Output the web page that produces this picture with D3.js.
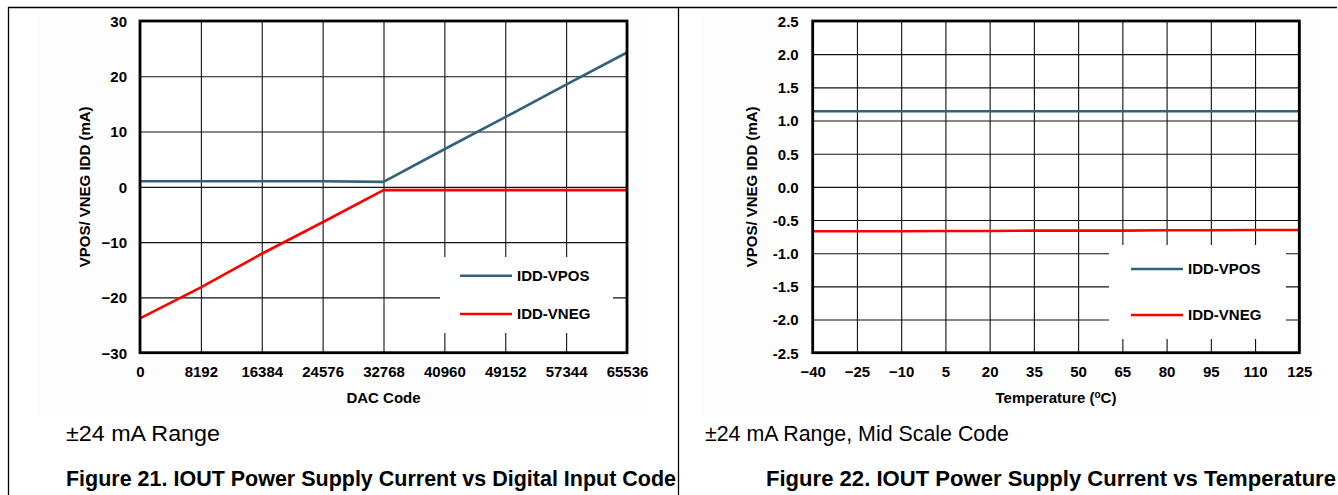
<!DOCTYPE html>
<html>
<head>
<meta charset="utf-8">
<script src="https://cdn.jsdelivr.net/npm/d3@7"></script>
<style>
  html, body { margin: 0; padding: 0; background: #fff; }
  svg { display: block; }
  text { font-family: "Liberation Sans", Arial, sans-serif; fill: #000; }
</style>
</head>
<body>
<svg id="chart" width="1338" height="495"></svg>
<script>
// ---------- Data (Figure 21) ----------
const dacCodes = [0, 8192, 16384, 24576, 32768, 40960, 49152, 57344, 65536];
const dacVpos  = [1.0, 1.0, 1.0, 1.0, 0.9, 6.8, 12.6, 18.5, 24.3];
const dacVneg  = [-23.8, -18.2, -12.1, -6.4, -0.6, -0.6, -0.6, -0.6, -0.6];
const dacXTicks = [0, 8192, 16384, 24576, 32768, 40960, 49152, 57344, 65536];
const dacYTicks = [-30, -20, -10, 0, 10, 20, 30];
const dacYLabels = ["\u221230", "\u221220", "\u221210", "0", "10", "20", "30"];

// ---------- Data (Figure 22) ----------
const temps    = [-40, -25, -10, 5, 20, 35, 50, 65, 80, 95, 110, 125];
const tempVpos = [1.14, 1.14, 1.14, 1.14, 1.14, 1.14, 1.14, 1.14, 1.14, 1.14, 1.14, 1.14];
const tempVneg = [-0.67, -0.67, -0.67, -0.665, -0.665, -0.66, -0.66, -0.66, -0.655, -0.655, -0.65, -0.65];
const tempXTicks = [-40, -25, -10, 5, 20, 35, 50, 65, 80, 95, 110, 125];
const tempXLabels = ["\u221240", "\u221225", "\u221210", "5", "20", "35", "50", "65", "80", "95", "110", "125"];
const tempYTicks = [-2.5, -2.0, -1.5, -1.0, -0.5, 0.0, 0.5, 1.0, 1.5, 2.0, 2.5];
const tempYLabels = ["-2.5", "-2.0", "-1.5", "-1.0", "-0.5", "0.0", "0.5", "1.0", "1.5", "2.0", "2.5"];

const seriesNames = ["IDD-VPOS", "IDD-VNEG"];
const seriesColors = ["#31627a", "#ff0000"];
const yTitle = "VPOS/ VNEG IDD (mA)";

const svg = d3.select("#chart");

// outer frame
svg.append("path")
  .attr("d", "M8.5,495 L8.5,7.5 L1337,7.5 M678.5,7.5 L678.5,495")
  .attr("fill", "none").attr("stroke", "#000").attr("stroke-width", 1.3);

function drawChart(cfg) {
  const g = svg.append("g");
  // faint panel background
  g.append("rect").attr("x", cfg.panel[0]).attr("y", cfg.panel[1])
    .attr("width", cfg.panel[2]).attr("height", cfg.panel[3]).attr("fill", "#fdfdfd");

  const x = d3.scaleLinear().domain(cfg.xDomain).range([cfg.left, cfg.right]);
  const y = d3.scaleLinear().domain(cfg.yDomain).range([cfg.bottom, cfg.top]);

  g.append("rect").attr("x", cfg.left).attr("y", cfg.top)
    .attr("width", cfg.right - cfg.left).attr("height", cfg.bottom - cfg.top).attr("fill", "#fff");

  // grid via axes
  const gx = g.append("g").attr("transform", `translate(0,${cfg.bottom})`)
    .call(d3.axisBottom(x).tickValues(cfg.xTicks).tickSize(-(cfg.bottom - cfg.top)).tickFormat((d, i) => cfg.xLabels[i]));
  gx.select(".domain").remove();
  gx.selectAll("line").attr("stroke", "#111").attr("stroke-width", 1.1);
  gx.selectAll("text").attr("font-size", 15).attr("font-weight", "bold")
    .attr("font-family", "Liberation Sans, Arial, sans-serif").attr("dy", 0).attr("y", 24);

  const gy = g.append("g").attr("transform", `translate(${cfg.left},0)`)
    .call(d3.axisLeft(y).tickValues(cfg.yTicks).tickSize(-(cfg.right - cfg.left)).tickFormat((d, i) => cfg.yLabels[i]));
  gy.select(".domain").remove();
  gy.selectAll("line").attr("stroke", "#111").attr("stroke-width", 1.1);
  gy.selectAll("text").attr("font-size", 15).attr("font-weight", "bold")
    .attr("font-family", "Liberation Sans, Arial, sans-serif").attr("x", -cfg.yLabelGap).attr("dy", "0.36em");

  // legend box (covers grid)
  const lb = cfg.legendBox;
  g.append("rect").attr("x", lb[0]).attr("y", lb[1]).attr("width", lb[2]).attr("height", lb[3]).attr("fill", "#fff");

  // series lines
  const line = d3.line().x(d => x(d[0])).y(d => y(d[1]));
  cfg.series.forEach((s, i) => {
    g.append("path").datum(cfg.xs.map((v, j) => [v, s[j]]))
      .attr("d", line).attr("fill", "none").attr("stroke", seriesColors[i])
      .attr("stroke-width", 2.6).attr("stroke-linejoin", "round");
  });

  // plot frame
  g.append("rect").attr("x", cfg.left).attr("y", cfg.top)
    .attr("width", cfg.right - cfg.left).attr("height", cfg.bottom - cfg.top)
    .attr("fill", "none").attr("stroke", "#000").attr("stroke-width", 2.8);

  // legend entries
  seriesNames.forEach((n, i) => {
    const ly = cfg.legendY[i];
    g.append("line").attr("x1", cfg.legendX).attr("x2", cfg.legendX + 52)
      .attr("y1", ly).attr("y2", ly).attr("stroke", seriesColors[i]).attr("stroke-width", 2.6);
    g.append("text").attr("x", cfg.legendX + 57).attr("y", ly).attr("dy", "0.36em")
      .attr("font-size", 15).attr("font-weight", "bold").text(n);
  });

  // axis titles
  const xt = g.append("text").attr("x", (cfg.left + cfg.right) / 2).attr("y", 403)
    .attr("text-anchor", "middle").attr("font-size", 15).attr("font-weight", "bold");
  cfg.xTitle(xt);

  g.append("text").attr("transform", `translate(${cfg.yTitleX},${(cfg.top + cfg.bottom) / 2}) rotate(-90)`)
    .attr("text-anchor", "middle").attr("font-size", 15).attr("font-weight", "bold").text(yTitle);

  // subtitle & caption
  g.append("text").attr("x", cfg.subX).attr("y", 441).attr("font-size", 22)
    .attr("textLength", cfg.subLen).attr("lengthAdjust", "spacingAndGlyphs").text(cfg.subtitle);
  g.append("text").attr("x", cfg.capX).attr("y", 486).attr("font-size", 21.7).attr("font-weight", "bold")
    .attr("textLength", cfg.capLen).attr("lengthAdjust", "spacingAndGlyphs").text(cfg.caption);
}

drawChart({
  panel: [37, 10, 611, 407],
  left: 140, right: 627, top: 21, bottom: 352.7,
  xDomain: [0, 65536], yDomain: [-30, 30],
  xTicks: dacXTicks, xLabels: dacXTicks.map(String),
  yTicks: dacYTicks, yLabels: dacYLabels, yLabelGap: 13,
  xs: dacCodes, series: [dacVpos, dacVneg],
  legendBox: [440, 257, 173, 76], legendX: 460, legendY: [275.7, 314],
  xTitle: t => t.text("DAC Code"),
  yTitleX: 90,
  subX: 66, subLen: 154, subtitle: "\u00B124 mA Range",
  capX: 66, capLen: 610, caption: "Figure 21. IOUT Power Supply Current vs Digital Input Code"
});

drawChart({
  panel: [701, 10, 620, 407],
  left: 812.7, right: 1299.3, top: 21, bottom: 352.7,
  xDomain: [-40, 125], yDomain: [-2.5, 2.5],
  xTicks: tempXTicks, xLabels: tempXLabels,
  yTicks: tempYTicks, yLabels: tempYLabels, yLabelGap: 14,
  xs: temps, series: [tempVpos, tempVneg],
  legendBox: [1109, 245, 177, 94], legendX: 1131, legendY: [269, 315],
  xTitle: t => { t.append("tspan").text("Temperature ("); t.append("tspan").attr("font-size", 10).attr("dy", -5).text("o"); t.append("tspan").attr("dy", 5).text("C)"); },
  yTitleX: 757,
  subX: 705, subLen: 304, subtitle: "\u00B124 mA Range, Mid Scale Code",
  capX: 766, capLen: 570, caption: "Figure 22. IOUT Power Supply Current vs Temperature"
});
</script>
</body>
</html>
